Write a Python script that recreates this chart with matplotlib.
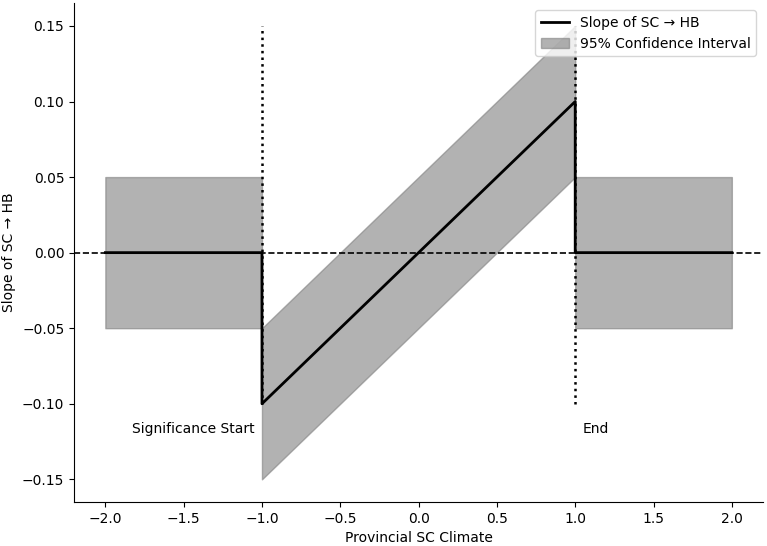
import matplotlib
matplotlib.use("Agg")
import matplotlib.pyplot as plt
import numpy as np

# piecewise slope of SC -> HB across provincial SC climate
climate = [-2.0, -1.0, -1.0, 1.0, 1.0, 2.0]
slope = [0.0, 0.0, -0.1, 0.1, 0.0, 0.0]
ci_half = [0.05, 0.05, 0.05, 0.05, 0.05, 0.05]

sig_bounds = [-1.0, 1.0]
sig_line_range = [-0.1, 0.15]
sig_labels = ["Significance Start", "End"]

x = np.array(climate)
y = np.array(slope)
h = np.array(ci_half)

fig, ax = plt.subplots(figsize=(7.67, 5.46), dpi=100)
fig.subplots_adjust(left=0.0965, right=0.995, bottom=0.0806, top=0.994)

ax.plot(x, y, color="black", lw=2, label="Slope of SC \u2192 HB")
ax.fill_between(x, y - h, y + h, color="gray", alpha=0.6, label="95% Confidence Interval")
ax.axhline(0, color="black", ls="--", lw=1.2)
for b in sig_bounds:
    ax.vlines(b, sig_line_range[0], sig_line_range[1], colors="black", linestyles=":", lw=1.8)

ax.text(sig_bounds[0] - 0.05, -0.117, sig_labels[0], ha="right", va="center", fontsize=10)
ax.text(sig_bounds[1] + 0.05, -0.117, sig_labels[1], ha="left", va="center", fontsize=10)

ax.set_xlabel("Provincial SC Climate")
ax.set_ylabel("Slope of SC \u2192 HB")
ax.spines["top"].set_visible(False)
ax.spines["right"].set_visible(False)
ax.legend(loc="upper right")

fig.savefig("out.png", dpi=100)
